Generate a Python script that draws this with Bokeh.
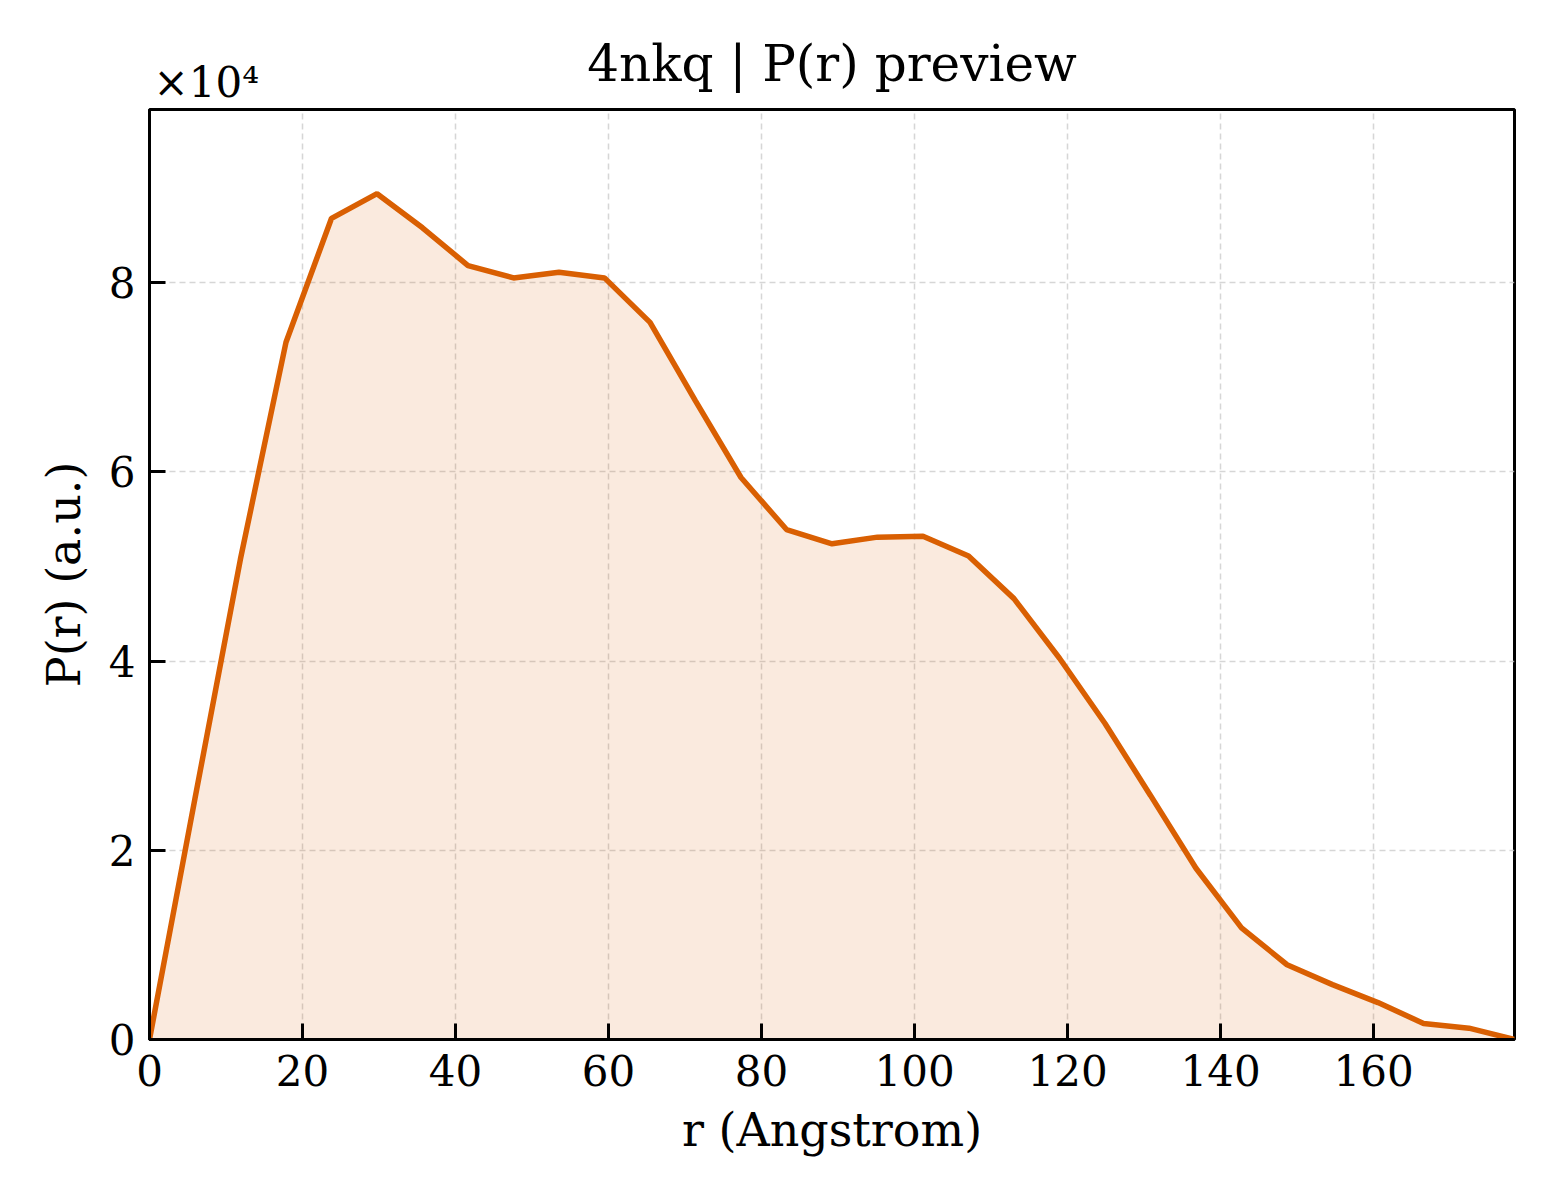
from bokeh.plotting import figure
from bokeh.embed import file_html
from bokeh.resources import INLINE
from bokeh.models import (ColumnDataSource, FixedTicker, CustomJSTickFormatter,
                          Label, Range1d)

# P(r) curve
r_values = [0, 5.95, 11.89, 17.84, 23.79, 29.74, 35.68, 41.63, 47.58, 53.52,
            59.47, 65.42, 71.36, 77.31, 83.26, 89.21, 95.15, 101.10, 107.05,
            112.99, 118.94, 124.89, 130.83, 136.78, 142.73, 148.68, 154.62,
            160.57, 166.52, 172.46, 178.41]
pr_values = [0, 25500, 50800, 73700, 86800, 89400, 85800, 81800, 80500, 81100,
             80500, 75800, 67500, 59400, 53900, 52400, 53100, 53200, 51100,
             46600, 40300, 33400, 25800, 18100, 11800, 7900, 5800, 3900,
             1700, 1200, 0]
x_ticks = [0, 20, 40, 60, 80, 100, 120, 140, 160]
y_ticks = [0, 20000, 40000, 60000, 80000]

FONT = "DejaVu Serif"
ORANGE = "#d95f02"
X_END, Y_END = 178.41, 98300

src = ColumnDataSource(data=dict(r=r_values, pr=pr_values,
                                 base=[0] * len(r_values)))

p = figure(frame_width=1365, frame_height=930,
           min_border_left=149, min_border_top=109,
           min_border_right=38, min_border_bottom=153,
           x_range=Range1d(0, X_END), y_range=Range1d(0, Y_END),
           toolbar_location=None, tools="", output_backend="svg")

p.varea(x="r", y1="base", y2="pr", source=src, fill_color=ORANGE, fill_alpha=0.13)
p.line(x="r", y="pr", source=src, line_color=ORANGE, line_width=5.5)

p.outline_line_color = "black"
p.outline_line_width = 3
p.outline_line_alpha = 1

p.xaxis.ticker = FixedTicker(ticks=x_ticks)
p.yaxis.ticker = FixedTicker(ticks=y_ticks)
p.yaxis.formatter = CustomJSTickFormatter(code="return (tick / 1e4).toFixed(0);")
p.xaxis.axis_label = "r (Angstrom)"
p.yaxis.axis_label = "P(r) (a.u.)"

for ax in (p.xaxis, p.yaxis):
    ax.axis_line_width = 3
    ax.axis_line_color = "black"
    ax.major_tick_in = 16
    ax.major_tick_out = 0
    ax.major_tick_line_width = 3
    ax.major_tick_line_color = "black"
    ax.minor_tick_line_color = None
    ax.major_label_text_font = FONT
    ax.major_label_text_font_size = "42px"
    ax.major_label_text_color = "black"
    ax.axis_label_text_font = FONT
    ax.axis_label_text_font_size = "46px"
    ax.axis_label_text_font_style = "normal"
    ax.axis_label_text_color = "black"

p.xaxis.major_label_standoff = 15
p.yaxis.major_label_standoff = 14
p.xaxis.axis_label_standoff = 14
p.yaxis.axis_label_standoff = 15

for g in (p.xgrid, p.ygrid):
    g.grid_line_color = "#cccccc"
    g.grid_line_width = 1.5
    g.grid_line_dash = "6 4"
    g.grid_line_alpha = 0.8

# title and y scale factor live in the top panel (center labels get clipped)
p.add_layout(Label(x=X_END / 2, y=Y_END, y_offset=46, text="4nkq | P(r) preview",
                   text_font=FONT, text_font_size="50px", text_align="center",
                   text_baseline="alphabetic", text_color="black"), "above")
p.add_layout(Label(x=0, y=Y_END, x_offset=4, y_offset=27, text="×10⁴",
                   text_font=FONT, text_font_size="42px",
                   text_baseline="alphabetic", text_color="black"), "above")

open("out.html", "w").write(file_html(p, INLINE))
